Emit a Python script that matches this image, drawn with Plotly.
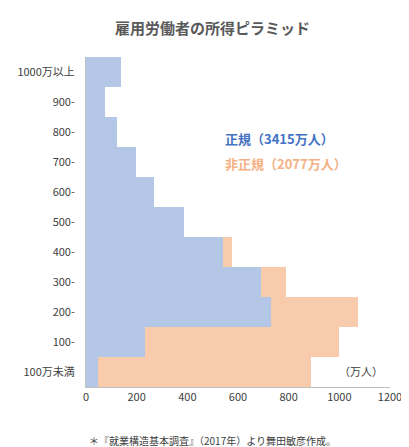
import plotly.graph_objects as go

cats = ["100万未満","100-","200-","300-","400-","500-","600-","700-","800-","900-","1000万以上"]
seiki = [49,233,731,691,541,388,268,197,122,75,138]
hiseiki = [887,1000,1074,790,575,120,80,50,30,20,30]
xticks = [0,200,400,600,800,1000,1200]

font = "Noto Sans CJK JP"
W, H = 409, 447
L, R, T, B = 78, 27, 49, 68
pw = W-L-R; ph = H-T-B

def px(fx, fy):
    return (fx-L)/pw, 1-(fy-T)/ph

fig = go.Figure()
fig.add_bar(y=cats, x=hiseiki, orientation="h", marker=dict(color="#f8cbad", line_width=0), name="非正規")
fig.add_bar(y=cats, x=seiki, orientation="h", marker=dict(color="#b4c7e7", line_width=0), name="正規")
a1 = px(215, 130); a2 = px(215, 155); a3 = px(204, 432)
fig.update_layout(
    width=W, height=H, barmode="overlay", bargap=0, showlegend=False,
    plot_bgcolor="white", paper_bgcolor="white",
    margin=dict(l=L, r=R, t=T, b=B, autoexpand=False),
    font=dict(family=font, size=11, color="#404040"),
    title=dict(text="<b>雇用労働者の所得ピラミッド</b>", x=0.5, y=0.965, xanchor="center",
               font=dict(size=15, color="#595959")),
    xaxis=dict(range=[0,1200], tickvals=xticks, showgrid=False, showline=True, automargin=False,
               linecolor="#bfbfbf", ticks="", zeroline=False, tickfont=dict(size=11, color="#404040")),
    yaxis=dict(categoryorder="array", categoryarray=cats, showline=True, linecolor="#bfbfbf", automargin=False,
               ticks="", showgrid=False, tickfont=dict(size=11, color="#404040"), ticklabelstandoff=8),
    annotations=[
        dict(text="<b>正規（3415万人）</b>", x=a1[0], y=a1[1], xref="paper", yref="paper", showarrow=False,
             font=dict(size=13, color="#4472c4"), xanchor="left", yanchor="middle"),
        dict(text="<b>非正規（2077万人）</b>", x=a2[0], y=a2[1], xref="paper", yref="paper", showarrow=False,
             font=dict(size=13, color="#f4b183"), xanchor="left", yanchor="middle"),
        dict(text="（万人）", x=1180, y=0.05, xref="x", yref="y", showarrow=False,
             font=dict(size=11, color="#404040"), xanchor="right", yanchor="middle"),
        dict(text="＊『就業構造基本調査』（2017年）より舞田敏彦作成。", x=a3[0], y=a3[1], xref="paper", yref="paper",
             showarrow=False, font=dict(size=10, color="#404040"), xanchor="center", yanchor="middle"),
    ],
)
fig.write_html("out.html")
